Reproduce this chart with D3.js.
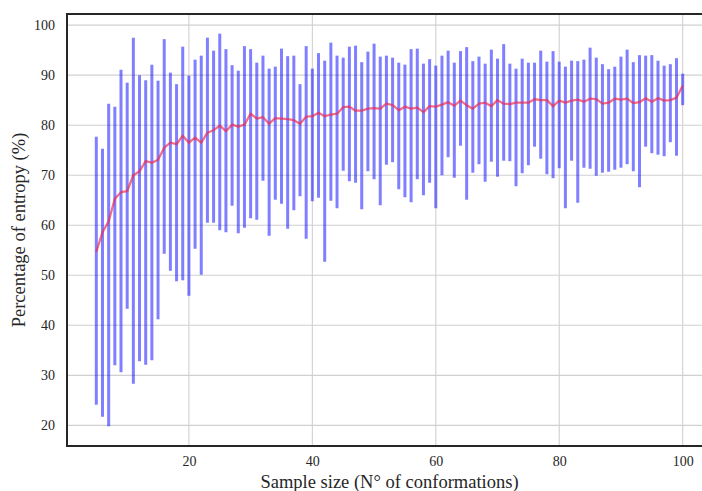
<!DOCTYPE html>
<html>
<head>
<meta charset="utf-8">
<script src="https://cdn.jsdelivr.net/npm/d3@7"></script>
<style>
  body { margin: 0; background: #fff; }
  svg { display: block; overflow: hidden; }
  text { font-family: "Liberation Serif", "DejaVu Serif", serif; fill: #262626; }
</style>
</head>
<body>
<script>
// sample sizes (N° of conformations)
const sizes = [5,6,7,8,9,10,11,12,13,14,15,16,17,18,19,20,21,22,23,24,25,26,27,28,29,30,
  31,32,33,34,35,36,37,38,39,40,41,42,43,44,45,46,47,48,49,50,51,52,53,54,55,56,57,58,59,60,
  61,62,63,64,65,66,67,68,69,70,71,72,73,74,75,76,77,78,79,80,81,82,83,84,85,86,87,88,89,90,
  91,92,93,94,95,96,97,98,99,100];

// max value for each sample size
const maxVals = [77.7,75.3,84.3,83.7,91.1,88.5,97.5,90.0,89.0,92.1,88.9,97.2,90.5,88.2,95.7,89.9,
  93.1,93.9,97.5,94.9,98.3,95.2,92.0,90.9,95.8,95.2,92.5,93.9,91.3,91.7,95.3,93.8,93.9,88.2,95.8,91.3,
  94.4,92.9,96.5,93.9,93.5,95.7,95.9,92.6,94.7,96.3,93.7,93.9,93.5,92.5,92.1,95.2,95.3,92.3,93.2,91.9,
  93.9,94.9,92.5,94.8,95.6,92.8,93.7,92.3,95.1,93.3,96.2,92.3,91.3,93.3,92.5,92.5,94.9,92.7,94.8,92.7,
  91.7,92.9,92.8,93.1,95.5,93.5,92.2,91.2,91.7,93.7,95.1,92.6,94.0,93.9,94.0,92.9,91.9,92.2,93.4,90.3];

// min value for each sample size
const minVals = [24.1,21.7,19.8,32.0,30.6,43.3,28.3,32.8,32.1,33.0,41.2,54.3,50.9,48.8,49.0,45.9,
  55.3,50.1,60.5,60.5,59.0,58.6,63.9,58.4,59.5,61.4,61.1,68.9,57.9,65.1,64.3,59.3,63.0,65.8,57.3,64.8,
  65.5,52.7,64.9,63.4,70.9,68.8,68.5,63.2,70.8,69.2,64.0,72.1,72.6,67.2,65.6,64.6,69.2,66.0,68.5,63.4,
  70.0,73.6,69.5,75.9,65.1,70.5,72.2,68.7,72.7,69.7,72.9,72.8,67.8,70.4,72.0,75.7,73.3,70.2,69.4,71.4,
  63.4,72.9,64.5,71.5,71.3,69.9,70.5,70.7,71.1,71.5,72.2,70.8,67.6,75.7,74.4,74.1,73.8,76.6,73.9,84.0];

// mean value for each sample size
const meanVals = [54.7,58.6,60.8,65.3,66.6,66.8,70.0,70.8,72.8,72.5,73.1,75.5,76.5,76.2,77.9,76.5,
  77.5,76.5,78.5,79.0,79.9,78.8,80.1,79.7,80.1,82.3,81.3,81.6,80.3,81.4,81.3,81.2,81.0,80.3,81.7,81.8,
  82.5,81.8,82.1,82.3,83.6,83.7,82.9,82.9,83.3,83.4,83.3,84.3,84.0,83.0,83.7,83.3,83.5,82.6,83.8,83.7,
  84.1,84.6,83.9,84.9,84.0,83.3,84.3,84.5,83.8,85.0,84.3,84.2,84.5,84.5,84.5,85.2,85.0,85.0,83.8,84.9,
  84.5,84.9,85.1,84.7,85.3,85.2,84.3,84.5,85.3,85.1,85.3,84.4,84.6,85.4,84.7,85.4,84.9,85.0,85.5,87.9];

const xTicks = [20, 40, 60, 80, 100];
const yTicks = [20, 30, 40, 50, 60, 70, 80, 90, 100];

const width = 702, height = 491;
const mLeft = 67, mTop = 14, mRight = 712, mBottom = 446;

const svg = d3.select("body").append("svg")
    .attr("width", width)
    .attr("height", height);

// autoscale with 5% margins
const xPad = (d3.max(sizes) - d3.min(sizes)) * 0.05;
const x = d3.scaleLinear()
    .domain([d3.min(sizes) - xPad, d3.max(sizes) + xPad])
    .range([mLeft, mRight]);

const yLo = d3.min(minVals), yHi = d3.max(maxVals);
const yPad = (yHi - yLo) * 0.05;
const y = d3.scaleLinear()
    .domain([yLo - yPad, yHi + yPad])
    .range([mBottom, mTop]);

// grid lines
const grid = svg.append("g");
grid.selectAll(".gy").data(yTicks).enter().append("line")
    .attr("x1", mLeft).attr("x2", mRight)
    .attr("y1", d => y(d)).attr("y2", d => y(d))
    .attr("stroke", "#d0d0d0").attr("stroke-width", 1.1);
grid.selectAll(".gx").data(xTicks).enter().append("line")
    .attr("x1", d => x(d)).attr("x2", d => x(d))
    .attr("y1", mTop).attr("y2", mBottom)
    .attr("stroke", "#d0d0d0").attr("stroke-width", 1.1);

// min-max range bars
const data = sizes.map((s, i) => ({ s: s, lo: minVals[i], hi: maxVals[i], mean: meanVals[i] }));

svg.append("g").selectAll("line").data(data).enter().append("line")
    .attr("x1", d => x(d.s)).attr("x2", d => x(d.s))
    .attr("y1", d => y(d.lo)).attr("y2", d => y(d.hi))
    .attr("stroke", "#0000ff")
    .attr("stroke-opacity", 0.5)
    .attr("stroke-width", 3);

// mean line
const line = d3.line()
    .x(d => x(d.s))
    .y(d => y(d.mean));

svg.append("path")
    .datum(data)
    .attr("d", line)
    .attr("fill", "none")
    .attr("stroke", "#ef2a4c")
    .attr("stroke-opacity", 0.68)
    .attr("stroke-width", 2.3)
    .attr("stroke-linejoin", "round");

// axes
const xAxis = svg.append("g")
    .attr("transform", `translate(0,${mBottom})`)
    .call(d3.axisBottom(x).tickValues(xTicks).tickSize(0).tickPadding(10));
const yAxis = svg.append("g")
    .attr("transform", `translate(${mLeft},0)`)
    .call(d3.axisLeft(y).tickValues(yTicks).tickSize(0).tickPadding(12));

[xAxis, yAxis].forEach(g => {
    g.attr("font-family", null).attr("font-size", null);
    g.select(".domain").remove();
    g.selectAll("text").style("font-size", "14px").attr("fill", "#262626");
});

// spines
svg.append("rect")
    .attr("x", mLeft).attr("y", mTop)
    .attr("width", mRight - mLeft).attr("height", mBottom - mTop)
    .attr("fill", "none")
    .attr("stroke", "#262626")
    .attr("stroke-width", 2);

// labels
svg.append("text")
    .attr("x", x(52.5))
    .attr("y", 488)
    .attr("text-anchor", "middle")
    .style("font-size", "18.5px")
    .text("Sample size (N° of conformations)");

svg.append("text")
    .attr("transform", `translate(25,${(mTop + mBottom) / 2}) rotate(-90)`)
    .attr("text-anchor", "middle")
    .style("font-size", "18.5px")
    .text("Percentage of entropy (%)");
</script>
</body>
</html>
